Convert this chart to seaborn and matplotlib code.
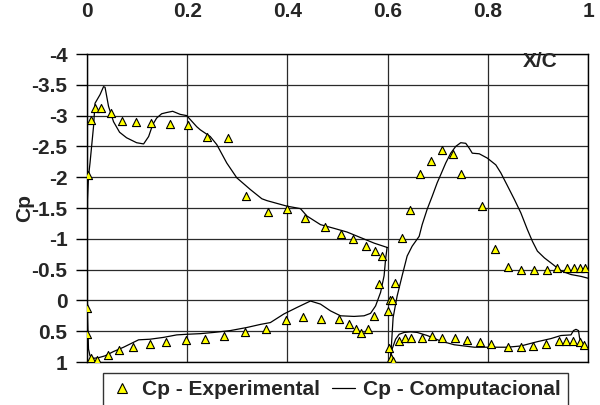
import numpy as np
import pandas as pd
import seaborn as sns
import matplotlib
matplotlib.use("Agg")
import matplotlib.pyplot as plt
from matplotlib.lines import Line2D

# Experimental pressure coefficients (main element + flap)
x_exp = [0.002, 0.008, 0.016, 0.028, 0.047, 0.069, 0.098, 0.128, 0.166, 0.201,
         0.240, 0.281, 0.318, 0.361, 0.400, 0.435, 0.475, 0.506, 0.530, 0.557,
         0.574, 0.588, 0.583,
         0.000, 0.000, 0.008, 0.019, 0.041, 0.063, 0.091, 0.125, 0.158, 0.198,
         0.235, 0.274, 0.316, 0.358, 0.398, 0.431, 0.468, 0.503, 0.523, 0.537,
         0.546, 0.561, 0.572,
         0.605, 0.608, 0.614, 0.629, 0.645, 0.665, 0.686, 0.709, 0.731, 0.746,
         0.788, 0.814, 0.841, 0.867, 0.893, 0.918, 0.938, 0.958, 0.973, 0.985,
         0.994,
         0.600, 0.603, 0.606, 0.611, 0.623, 0.634, 0.647, 0.669, 0.689, 0.709,
         0.735, 0.759, 0.785, 0.807, 0.841, 0.867, 0.891, 0.917, 0.943, 0.957,
         0.970, 0.984, 0.993]
cp_exp = [-2.03, -2.93, -3.13, -3.13, -3.04, -2.92, -2.90, -2.88, -2.86, -2.84,
          -2.65, -2.64, -1.69, -1.44, -1.49, -1.33, -1.19, -1.07, -1.00, -0.88,
          -0.80, -0.72, -0.27,
          0.13, 0.55, 0.94, 0.97, 0.88, 0.81, 0.76, 0.71, 0.68, 0.64,
          0.62, 0.58, 0.52, 0.47, 0.32, 0.27, 0.30, 0.31, 0.385, 0.47,
          0.53, 0.47, 0.26,
          -0.01, -0.01, -0.28, -1.01, -1.46, -2.05, -2.26, -2.44, -2.37, -2.05,
          -1.53, -0.83, -0.54, -0.49, -0.49, -0.50, -0.52, -0.52, -0.52, -0.53,
          -0.53,
          0.18, 0.78, 0.94, 0.98, 0.66, 0.61, 0.61, 0.61, 0.58, 0.61,
          0.61, 0.65, 0.68, 0.71, 0.76, 0.76, 0.74, 0.70, 0.66, 0.66,
          0.66, 0.68, 0.72]

# Computed Cp, main element: trailing edge -> upper surface -> LE -> lower surface -> TE
x_main = [0.599, 0.573, 0.546, 0.519, 0.493, 0.466, 0.439, 0.426, 0.399, 0.359,
          0.349, 0.326, 0.299, 0.279, 0.259, 0.246, 0.226, 0.219, 0.199, 0.186,
          0.171, 0.159, 0.149, 0.139, 0.131, 0.123, 0.113, 0.099, 0.079, 0.065,
          0.053, 0.043, 0.036, 0.033, 0.026, 0.016, 0.013, 0.006, 0.003, 0.001,
          0.000, 0.003, 0.006, 0.013, 0.023, 0.036, 0.053, 0.073, 0.093, 0.103,
          0.126, 0.153, 0.179, 0.199, 0.226, 0.253, 0.286, 0.319, 0.346, 0.366,
          0.393, 0.419, 0.446, 0.466, 0.486, 0.506, 0.533, 0.553, 0.566, 0.576,
          0.586, 0.593, 0.596, 0.599]
cp_main = [-0.86, -0.93, -1.02, -1.11, -1.17, -1.23, -1.37, -1.49, -1.53, -1.62,
           -1.65, -1.80, -1.99, -2.23, -2.53, -2.66, -2.77, -2.82, -3.00, -3.02,
           -3.07, -3.05, -3.03, -2.96, -2.85, -2.66, -2.54, -2.56, -2.64, -2.73,
           -2.90, -3.15, -3.46, -3.47, -3.34, -3.20, -2.82, -2.23, -2.01, -1.64,
           0.00, 0.79, 0.90, 0.94, 0.93, 0.90, 0.83, 0.76, 0.68, 0.64,
           0.63, 0.60, 0.56, 0.55, 0.54, 0.52, 0.49, 0.44, 0.39, 0.36,
           0.22, 0.115, 0.01, 0.06, 0.17, 0.25, 0.26, 0.25, 0.21, 0.09,
           -0.13, -0.40, -0.67, -0.86]

# Computed Cp, flap: trailing edge -> upper surface -> LE -> lower surface -> TE
x_flap = [1.000, 0.986, 0.966, 0.946, 0.929, 0.913, 0.899, 0.889, 0.879, 0.866,
          0.853, 0.838, 0.826, 0.816, 0.799, 0.783, 0.769, 0.763, 0.756, 0.746,
          0.736, 0.726, 0.716, 0.706, 0.699, 0.689, 0.679, 0.669, 0.663, 0.649,
          0.639, 0.629, 0.619, 0.611, 0.606,
          0.609, 0.616, 0.623, 0.633, 0.646, 0.659, 0.679, 0.706, 0.733, 0.773,
          0.806, 0.839, 0.866, 0.899, 0.926, 0.946, 0.966, 0.971, 0.976, 0.981,
          0.983, 0.986, 0.993]
cp_flap = [-0.36, -0.39, -0.42, -0.48, -0.59, -0.69, -0.80, -0.96, -1.15, -1.42,
           -1.64, -1.88, -2.07, -2.20, -2.31, -2.38, -2.39, -2.47, -2.55, -2.56,
           -2.50, -2.39, -2.23, -2.04, -1.91, -1.69, -1.48, -1.23, -1.04, -0.88,
           -0.72, -0.40, -0.07, 0.28, 0.95,
           0.79, 0.63, 0.55, 0.52, 0.51, 0.52, 0.57, 0.66, 0.72, 0.76,
           0.76, 0.76, 0.74, 0.67, 0.62, 0.57, 0.56, 0.49, 0.47, 0.49,
           0.60, 0.69, 0.74]

x_ticks = [0, 0.2, 0.4, 0.6, 0.8, 1]
x_tick_labels = ["0", "0.2", "0.4", "0.6", "0.8", "1"]
y_ticks = [-4, -3.5, -3, -2.5, -2, -1.5, -1, -0.5, 0, 0.5, 1]
y_tick_labels = ["-4", "-3.5", "-3", "-2.5", "-2", "-1.5", "-1", "-0.5", "0", "0.5", "1"]

sns.set_style("white")
plt.rcParams["font.family"] = ["Liberation Sans", "DejaVu Sans"]
plt.rcParams["font.weight"] = "bold"
FS = 15

comp = pd.DataFrame({
    "x": x_main + x_flap,
    "cp": cp_main + cp_flap,
    "element": ["main"] * len(x_main) + ["flap"] * len(x_flap),
})
exp = pd.DataFrame({"x": x_exp, "cp": cp_exp})

fig = plt.figure(figsize=(6.0, 4.05), dpi=100)
ax = fig.add_axes([87 / 600, 43 / 405, 501 / 600, 308 / 405])

sns.lineplot(data=comp, x="x", y="cp", units="element", estimator=None,
             sort=False, color="black", linewidth=0.9, ax=ax, legend=False)
sns.scatterplot(data=exp, x="x", y="cp", marker="^", s=34, color="#FFFF00",
                edgecolor="black", linewidth=0.8, ax=ax, legend=False, zorder=3)

ax.set_xlim(0, 1)
ax.set_ylim(1, -4)
ax.xaxis.tick_top()
ax.set_xticks(x_ticks)
ax.set_xticklabels(x_tick_labels, fontsize=FS, fontweight="bold")
ax.set_yticks(y_ticks)
ax.set_yticklabels(y_tick_labels, fontsize=FS, fontweight="bold")
ax.tick_params(axis="x", length=0, pad=24)
ax.tick_params(axis="y", length=8, width=1, direction="out", pad=6, color="black", left=True)
ax.set_xlabel("")
ax.set_ylabel("")

ax.grid(True, color="#2a2a2a", linewidth=0.9)
ax.set_axisbelow(True)
for s in ax.spines.values():
    s.set_color("black")
    s.set_linewidth(1.0)

ax.text(0.905, 0.958, "X/C", transform=ax.transAxes, ha="center", va="baseline",
        fontsize=FS, fontweight="bold")
fig.text(25 / 600, 1 - 208 / 405, "Cp", rotation=90, ha="center", va="center",
         fontsize=FS, fontweight="bold")

handles = [
    Line2D([], [], linestyle="none", marker="^", markersize=6.5,
           markerfacecolor="#FFFF00", markeredgecolor="black", markeredgewidth=0.8),
    Line2D([], [], color="black", linewidth=0.9),
]
leg = fig.legend(handles, ["Cp - Experimental", "Cp - Computacional"],
                 loc="upper left", bbox_to_anchor=(103 / 600, 1 - 373 / 405),
                 ncol=2, frameon=True, fancybox=False, shadow=False,
                 prop={"size": FS, "weight": "bold"}, handlelength=1.1,
                 handletextpad=0.4, columnspacing=0.6, borderpad=0.35,
                 borderaxespad=0)
leg.get_frame().set_edgecolor("black")
leg.get_frame().set_linewidth(1.0)

fig.savefig("out.png", dpi=100)
